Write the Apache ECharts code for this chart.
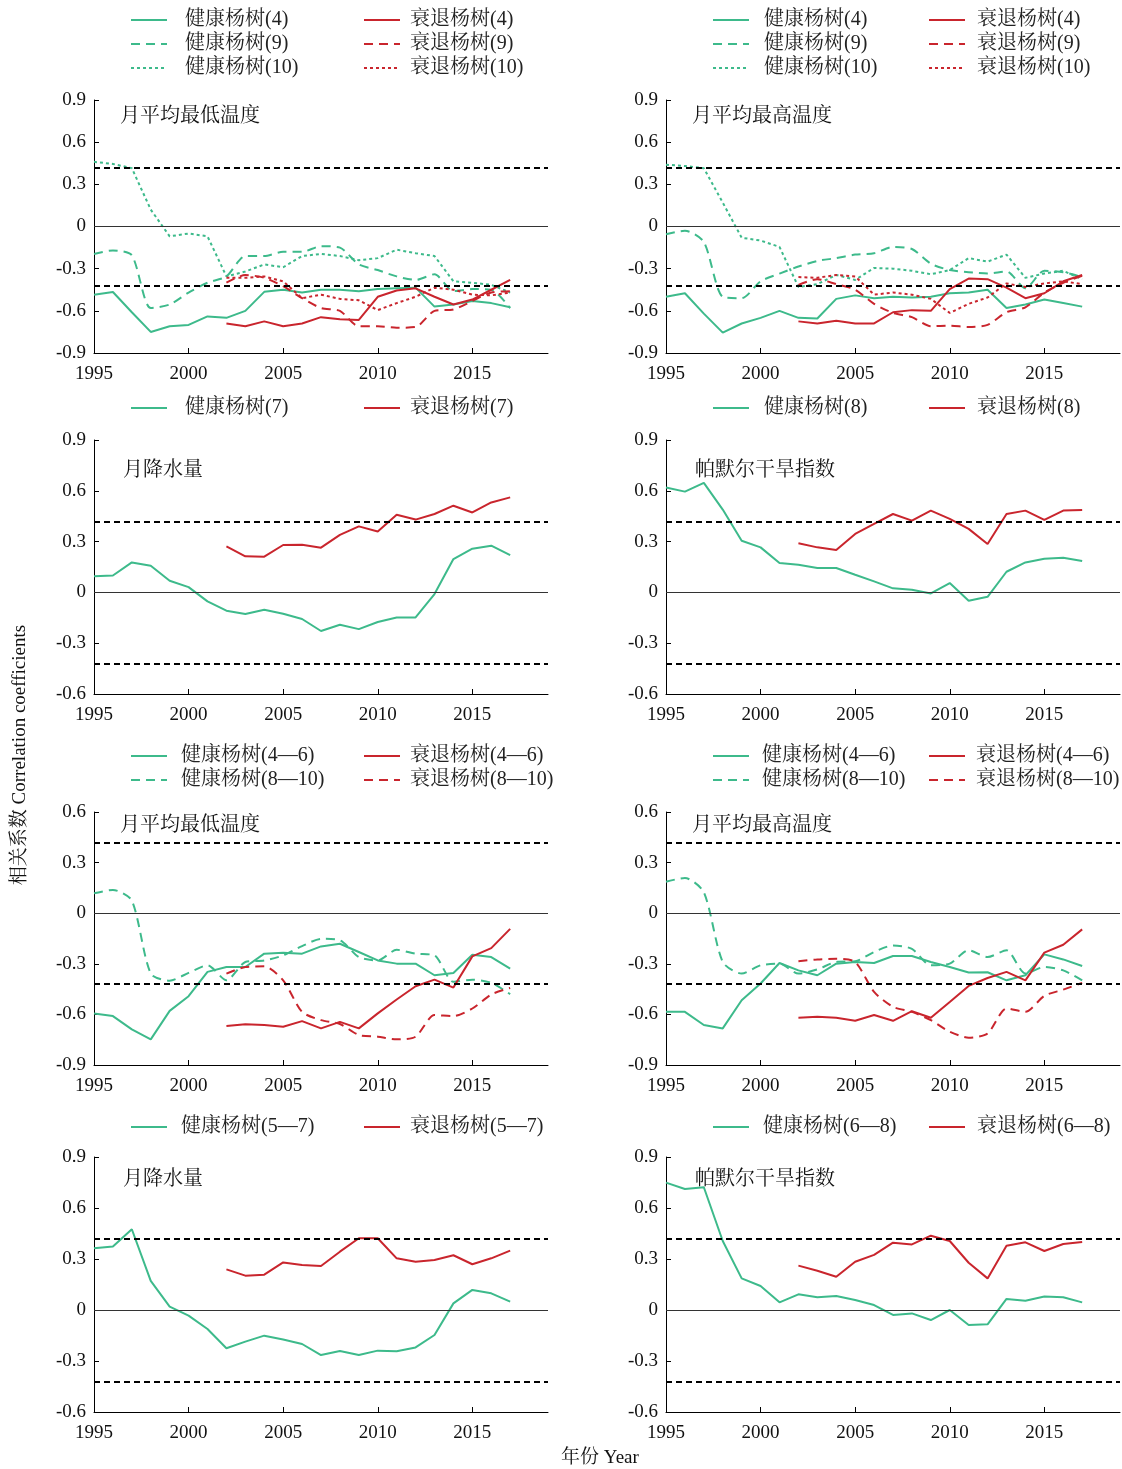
<!DOCTYPE html>
<html><head><meta charset="utf-8">
<script src="https://cdn.jsdelivr.net/npm/echarts@6/dist/echarts.min.js"></script>
<style>html,body{margin:0;padding:0;background:#fff}#c{width:1122px;height:1469px}</style>
</head><body><div id="c"></div>
<script>
const yearsHealthy = [1995,1996,1997,1998,1999,2000,2001,2002,2003,2004,2005,2006,2007,2008,2009,2010,2011,2012,2013,2014,2015,2016,2017];
const yearsDecline = [2002,2003,2004,2005,2006,2007,2008,2009,2010,2011,2012,2013,2014,2015,2016,2017];
const xTickLabels = [1995,2000,2005,2010,2015];
const sigLevel = 0.424;

// Panel 1: 月平均最低温度 (months 4, 9, 10)
const p1_h4  = [-0.485,-0.466,-0.61,-0.75,-0.71,-0.70,-0.64,-0.65,-0.60,-0.465,-0.45,-0.47,-0.45,-0.45,-0.46,-0.445,-0.44,-0.435,-0.57,-0.555,-0.53,-0.545,-0.575];
const p1_h9  = [-0.196,-0.17,-0.205,-0.58,-0.555,-0.47,-0.40,-0.355,-0.21,-0.21,-0.18,-0.18,-0.14,-0.15,-0.27,-0.31,-0.355,-0.38,-0.34,-0.46,-0.445,-0.45,-0.58];
const p1_h10 = [0.46,0.445,0.415,0.12,-0.07,-0.05,-0.07,-0.355,-0.32,-0.27,-0.29,-0.21,-0.195,-0.21,-0.24,-0.225,-0.165,-0.19,-0.21,-0.39,-0.40,-0.415,-0.47];
const p1_d4  = [-0.69,-0.71,-0.675,-0.71,-0.69,-0.645,-0.66,-0.665,-0.50,-0.455,-0.44,-0.50,-0.555,-0.52,-0.45,-0.38];
const p1_d9  = [-0.40,-0.345,-0.365,-0.425,-0.51,-0.58,-0.60,-0.71,-0.71,-0.72,-0.715,-0.60,-0.59,-0.53,-0.47,-0.46];
const p1_d10 = [-0.365,-0.365,-0.355,-0.39,-0.51,-0.485,-0.515,-0.525,-0.595,-0.545,-0.50,-0.435,-0.45,-0.485,-0.49,-0.47];

// Panel 2: 月平均最高温度 (months 4, 9, 10)
const p2_h4  = [-0.50,-0.475,-0.62,-0.755,-0.69,-0.65,-0.60,-0.65,-0.655,-0.515,-0.49,-0.51,-0.50,-0.505,-0.50,-0.475,-0.47,-0.45,-0.58,-0.555,-0.52,-0.545,-0.57];
const p2_h9  = [-0.055,-0.03,-0.11,-0.50,-0.51,-0.39,-0.335,-0.285,-0.245,-0.225,-0.20,-0.19,-0.145,-0.16,-0.265,-0.31,-0.325,-0.335,-0.32,-0.44,-0.315,-0.325,-0.36];
const p2_h10 = [0.44,0.43,0.415,0.17,-0.08,-0.10,-0.145,-0.43,-0.41,-0.345,-0.38,-0.295,-0.30,-0.315,-0.34,-0.31,-0.225,-0.25,-0.20,-0.365,-0.335,-0.315,-0.375];
const p2_d4  = [-0.675,-0.69,-0.67,-0.69,-0.69,-0.61,-0.595,-0.60,-0.445,-0.37,-0.375,-0.435,-0.51,-0.475,-0.39,-0.345];
const p2_d9  = [-0.415,-0.375,-0.41,-0.45,-0.55,-0.615,-0.645,-0.71,-0.705,-0.715,-0.70,-0.61,-0.575,-0.47,-0.40,-0.35];
const p2_d10 = [-0.36,-0.365,-0.345,-0.355,-0.485,-0.47,-0.485,-0.515,-0.615,-0.55,-0.505,-0.405,-0.43,-0.405,-0.39,-0.41];

// Panel 3: 月降水量 (month 7)
const p3_h7 = [0.095,0.10,0.177,0.157,0.069,0.031,-0.053,-0.108,-0.128,-0.102,-0.126,-0.157,-0.228,-0.191,-0.217,-0.175,-0.148,-0.148,-0.01,0.197,0.258,0.276,0.22];
const p3_d7 = [0.272,0.213,0.211,0.28,0.282,0.264,0.34,0.39,0.36,0.459,0.43,0.463,0.512,0.472,0.531,0.561];

// Panel 4: 帕默尔干旱指数 (month 8)
const p4_h8 = [0.62,0.595,0.647,0.489,0.305,0.266,0.173,0.163,0.144,0.144,0.104,0.065,0.024,0.016,-0.006,0.055,-0.049,-0.026,0.122,0.177,0.199,0.205,0.185];
const p4_d8 = [0.29,0.266,0.25,0.345,0.404,0.463,0.424,0.483,0.434,0.375,0.286,0.463,0.483,0.428,0.483,0.487];

// Panel 5: 月平均最低温度 (4—6, 8—10)
const p5_h46  = [-0.595,-0.61,-0.689,-0.748,-0.579,-0.492,-0.348,-0.319,-0.319,-0.24,-0.234,-0.24,-0.197,-0.181,-0.23,-0.28,-0.299,-0.299,-0.368,-0.354,-0.246,-0.26,-0.329];
const p5_h810 = [0.118,0.138,0.075,-0.358,-0.40,-0.354,-0.309,-0.398,-0.289,-0.28,-0.25,-0.195,-0.152,-0.161,-0.26,-0.28,-0.217,-0.24,-0.25,-0.407,-0.394,-0.413,-0.48];
const p5_d46  = [-0.669,-0.659,-0.663,-0.673,-0.64,-0.683,-0.644,-0.683,-0.594,-0.512,-0.433,-0.394,-0.441,-0.256,-0.207,-0.093];
const p5_d810 = [-0.358,-0.319,-0.315,-0.398,-0.585,-0.634,-0.657,-0.722,-0.732,-0.748,-0.732,-0.604,-0.61,-0.565,-0.482,-0.443];

// Panel 6: 月平均最高温度 (4—6, 8—10)
const p6_h46  = [-0.585,-0.585,-0.663,-0.683,-0.516,-0.417,-0.295,-0.339,-0.368,-0.299,-0.289,-0.295,-0.254,-0.254,-0.289,-0.319,-0.352,-0.35,-0.398,-0.368,-0.244,-0.274,-0.313];
const p6_h810 = [0.187,0.209,0.124,-0.289,-0.358,-0.309,-0.299,-0.358,-0.333,-0.289,-0.285,-0.23,-0.191,-0.211,-0.309,-0.299,-0.22,-0.26,-0.22,-0.358,-0.319,-0.339,-0.398];
const p6_d46  = [-0.62,-0.614,-0.62,-0.638,-0.604,-0.638,-0.581,-0.62,-0.526,-0.431,-0.384,-0.348,-0.398,-0.234,-0.187,-0.096];
const p6_d810 = [-0.285,-0.274,-0.27,-0.289,-0.467,-0.555,-0.585,-0.634,-0.703,-0.738,-0.713,-0.565,-0.585,-0.49,-0.453,-0.413];

// Panel 7: 月降水量 (5—7)
const p7_h57 = [0.363,0.373,0.475,0.171,0.02,-0.033,-0.112,-0.225,-0.186,-0.151,-0.173,-0.2,-0.265,-0.241,-0.265,-0.239,-0.243,-0.22,-0.147,0.039,0.118,0.098,0.049];
const p7_d57 = [0.239,0.202,0.208,0.28,0.265,0.259,0.343,0.422,0.422,0.304,0.284,0.294,0.322,0.269,0.304,0.349];

// Panel 8: 帕默尔干旱指数 (6—8)
const p8_h68 = [0.749,0.712,0.722,0.406,0.186,0.141,0.045,0.092,0.075,0.082,0.059,0.029,-0.029,-0.02,-0.059,0.0,-0.088,-0.084,0.065,0.055,0.08,0.075,0.045];
const p8_d68 = [0.261,0.231,0.196,0.284,0.324,0.396,0.386,0.437,0.406,0.278,0.186,0.378,0.398,0.347,0.388,0.4];

const GREEN = '#3dba8b', RED = '#c9252d';
const FONT = '"Times New Roman","Liberation Serif","Noto Serif CJK SC","Noto Sans CJK SC",serif';
const DASH = [9, 6], DOT = [3, 3];

const L = {left: 94, width: 454}, R = {left: 666, width: 454};
const rows = [
  {top: 100, height: 253, min: -0.9, max: 0.9, legendTop: 8, titleDy: 17},
  {top: 440, height: 254, min: -0.6, max: 0.9, legendTop: 396, titleDy: 31},
  {top: 812, height: 253, min: -0.9, max: 0.6, legendTop: 744, titleDy: 14},
  {top: 1157, height: 255, min: -0.6, max: 0.9, legendTop: 1115, titleDy: 23}
];

function S(name, years, vals, color, type) { return {name, years, vals, color, type}; }
const panels = [
  {col: L, row: 0, title: '月平均最低温度', legX: [130, 363], textX: [186, 411], series: [
    S('健康杨树(4)', yearsHealthy, p1_h4, GREEN, 'solid'), S('健康杨树(9)', yearsHealthy, p1_h9, GREEN, DASH), S('健康杨树(10)', yearsHealthy, p1_h10, GREEN, DOT),
    S('衰退杨树(4)', yearsDecline, p1_d4, RED, 'solid'), S('衰退杨树(9)', yearsDecline, p1_d9, RED, DASH), S('衰退杨树(10)', yearsDecline, p1_d10, RED, DOT)]},
  {col: R, row: 0, title: '月平均最高温度', legX: [712, 928], textX: [765, 978], series: [
    S('健康杨树(4)', yearsHealthy, p2_h4, GREEN, 'solid'), S('健康杨树(9)', yearsHealthy, p2_h9, GREEN, DASH), S('健康杨树(10)', yearsHealthy, p2_h10, GREEN, DOT),
    S('衰退杨树(4)', yearsDecline, p2_d4, RED, 'solid'), S('衰退杨树(9)', yearsDecline, p2_d9, RED, DASH), S('衰退杨树(10)', yearsDecline, p2_d10, RED, DOT)]},
  {col: L, row: 1, title: '月降水量', legX: [130, 363], textX: [186, 411], series: [
    S('健康杨树(7)', yearsHealthy, p3_h7, GREEN, 'solid'), S('衰退杨树(7)', yearsDecline, p3_d7, RED, 'solid')]},
  {col: R, row: 1, title: '帕默尔干旱指数', legX: [712, 928], textX: [765, 978], series: [
    S('健康杨树(8)', yearsHealthy, p4_h8, GREEN, 'solid'), S('衰退杨树(8)', yearsDecline, p4_d8, RED, 'solid')]},
  {col: L, row: 2, title: '月平均最低温度', legX: [130, 363], textX: [182, 411], series: [
    S('健康杨树(4—6)', yearsHealthy, p5_h46, GREEN, 'solid'), S('健康杨树(8—10)', yearsHealthy, p5_h810, GREEN, DASH),
    S('衰退杨树(4—6)', yearsDecline, p5_d46, RED, 'solid'), S('衰退杨树(8—10)', yearsDecline, p5_d810, RED, DASH)]},
  {col: R, row: 2, title: '月平均最高温度', legX: [712, 928], textX: [763, 977], series: [
    S('健康杨树(4—6)', yearsHealthy, p6_h46, GREEN, 'solid'), S('健康杨树(8—10)', yearsHealthy, p6_h810, GREEN, DASH),
    S('衰退杨树(4—6)', yearsDecline, p6_d46, RED, 'solid'), S('衰退杨树(8—10)', yearsDecline, p6_d810, RED, DASH)]},
  {col: L, row: 3, title: '月降水量', legX: [130, 363], textX: [182, 411], series: [
    S('健康杨树(5—7)', yearsHealthy, p7_h57, GREEN, 'solid'), S('衰退杨树(5—7)', yearsDecline, p7_d57, RED, 'solid')]},
  {col: R, row: 3, title: '帕默尔干旱指数', legX: [712, 928], textX: [764, 978], series: [
    S('健康杨树(6—8)', yearsHealthy, p8_h68, GREEN, 'solid'), S('衰退杨树(6—8)', yearsDecline, p8_d68, RED, 'solid')]}
];

const grid = [], xAxis = [], yAxis = [], series = [], legend = [], graphic = [];
panels.forEach((p, i) => {
  const r = rows[p.row];
  grid.push({left: p.col.left, width: p.col.width, top: r.top, height: r.height, containLabel: false});
  xAxis.push({
    type: 'value', gridIndex: i, min: 1995, max: 2019, interval: 5,
    axisLine: {show: true, onZero: false, lineStyle: {color: '#000', width: 1}},
    axisTick: {show: true, inside: true, length: 5, lineStyle: {color: '#000'}, customValues: xTickLabels},
    axisLabel: {fontSize: 19, color: '#111', fontFamily: FONT, margin: 12, customValues: xTickLabels, formatter: v => String(v)},
    splitLine: {show: false}
  });
  yAxis.push({
    type: 'value', gridIndex: i, min: r.min, max: r.max, interval: 0.3,
    axisLine: {show: true, onZero: false, lineStyle: {color: '#000', width: 1}},
    axisTick: {show: true, inside: true, length: 5, lineStyle: {color: '#000'}},
    axisLabel: {fontSize: 19, color: '#111', fontFamily: FONT, margin: 8,
      formatter: v => Math.abs(v) < 1e-9 ? '0' : (Math.round(v * 10) / 10).toFixed(1)},
    splitLine: {show: false}
  });
  p.series.forEach((s, k) => {
    const o = {
      type: 'line', name: s.name, xAxisIndex: i, yAxisIndex: i,
      data: s.years.map((y, j) => [y, s.vals[j]]),
      showSymbol: false, symbol: 'none', smooth: s.type === DASH ? 0.25 : false,
      lineStyle: {color: s.color, width: 2, type: s.type},
      itemStyle: {color: s.color}, z: 3, silent: true
    };
    if (k === 0) {
      o.markLine = {
        silent: true, symbol: ['none', 'none'], label: {show: false}, animation: false,
        data: [
          {yAxis: 0, lineStyle: {color: '#333', width: 1, type: 'solid'}},
          {yAxis: sigLevel, lineStyle: {color: '#000', width: 2, type: [6, 4]}},
          {yAxis: -sigLevel, lineStyle: {color: '#000', width: 2, type: [6, 4]}}
        ]
      };
    }
    series.push(o);
  });
  const healthy = p.series.filter(s => s.name.startsWith('健康')).map(s => s.name);
  const decline = p.series.filter(s => s.name.startsWith('衰退')).map(s => s.name);
  [healthy, decline].forEach((names, c) => {
    legend.push({
      orient: 'vertical', left: p.legX[c], top: r.legendTop + 2, data: names, padding: 0,
      itemWidth: 36, itemHeight: 14, itemGap: 4, selectedMode: false,
      itemStyle: {opacity: 0, borderWidth: 0},
      lineStyle: {width: 2},
      textStyle: {fontSize: 20, lineHeight: 20, color: '#222', fontFamily: FONT,
        padding: [0, 0, 0, Math.max(0, p.textX[c] - p.legX[c] - 43)]}
    });
  });
  graphic.push({
    type: 'text', x: p.col.left + (p.title === '月降水量' || p.title === '帕默尔干旱指数' ? 29 : 26),
    y: r.top + r.titleDy,
    style: {text: p.title, fontSize: 20, fontFamily: FONT, fill: '#111', verticalAlign: 'middle'}
  });
});
graphic.push({
  type: 'text', x: 20, y: 755, rotation: Math.PI / 2,
  style: {text: '相关系数 Correlation coefficients', fontSize: 19, fontFamily: FONT, fill: '#111', align: 'center', verticalAlign: 'middle'}
});
graphic.push({
  type: 'text', x: 600, y: 1458,
  style: {text: '年份 Year', fontSize: 19, fontFamily: FONT, fill: '#111', align: 'center', verticalAlign: 'middle'}
});

const chart = echarts.init(document.getElementById('c'), null, {renderer: 'canvas'});
chart.setOption({animation: false, backgroundColor: '#fff', grid, xAxis, yAxis, series, legend, graphic});
</script></body></html>
